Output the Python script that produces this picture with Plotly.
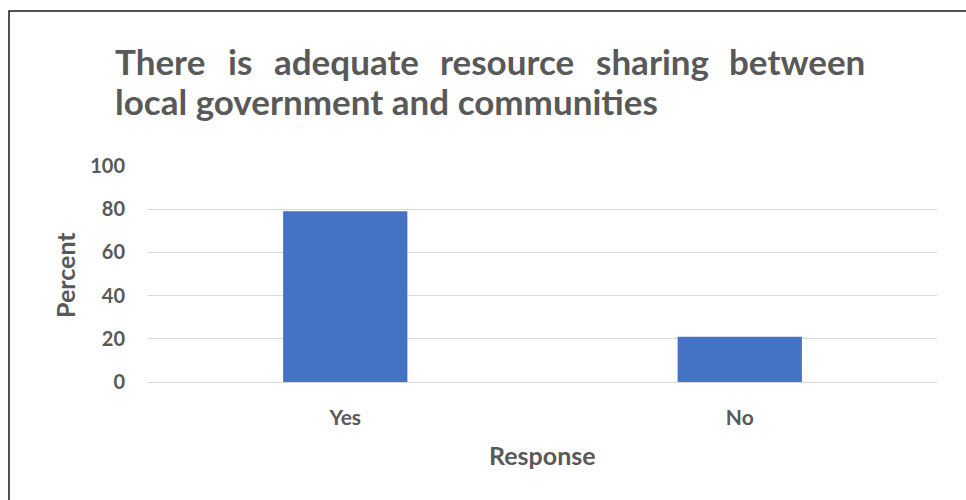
import plotly.graph_objects as go

# Survey result: share of respondents agreeing with the statement
categories = ["Yes", "No"]
percent = [79, 21]
y_ticks = [0, 20, 40, 60, 80, 100]

title_line1 = ["There", "is", "adequate", "resource", "sharing", "between"]
title_line2 = "local government and communities"

W, H = 966, 500
L, R, T, B = 148, 29, 166, 118
PW, PH = W - L - R, H - T - B

FONT = "Lato"
GREY = "#595959"


def px_x(px):
    return (px - L) / PW


def px_y(py):
    return (H - B - py) / PH


fig = go.Figure(
    go.Bar(
        x=categories,
        y=percent,
        marker=dict(color="#4472C4", line=dict(width=0)),
        width=0.315,
        hoverinfo="x+y",
    )
)

# Title: first line justified across the chart width, word centres spread out
word_centre = [160, 240, 346, 507, 652, 797]
annotations = []
for word, xc in zip(title_line1, word_centre):
    annotations.append(
        dict(
            text=word, x=px_x(xc), y=px_y(61), xref="paper", yref="paper",
            xanchor="center", yanchor="middle", showarrow=False,
            font=dict(family=FONT, size=35, color=GREY, weight="bold"),
        )
    )
annotations.append(
    dict(
        text=title_line2, x=px_x(113), y=px_y(101), xref="paper", yref="paper",
        xanchor="left", yanchor="middle", showarrow=False,
        font=dict(family=FONT, size=35, color=GREY, weight="bold"),
    )
)
# Axis titles
annotations.append(
    dict(
        text="Percent", x=px_x(65), y=px_y(275), xref="paper", yref="paper",
        xanchor="center", yanchor="middle", showarrow=False, textangle=-90,
        font=dict(family=FONT, size=25, color=GREY, weight="bold"),
    )
)
annotations.append(
    dict(
        text="Response", x=0.5, y=px_y(455), xref="paper", yref="paper",
        xanchor="center", yanchor="middle", showarrow=False,
        font=dict(family=FONT, size=25, color=GREY, weight="bold"),
    )
)

fig.update_layout(
    width=W,
    height=H,
    margin=dict(l=L, r=R, t=T, b=B, autoexpand=False),
    paper_bgcolor="white",
    plot_bgcolor="white",
    showlegend=False,
    annotations=annotations,
    shapes=[
        dict(
            type="rect", xref="paper", yref="paper",
            x0=px_x(9), y0=px_y(520), x1=px_x(990), y1=px_y(11),
            line=dict(color="#1a1a1a", width=1.5), fillcolor="rgba(0,0,0,0)",
            layer="below",
        )
    ],
)

fig.update_yaxes(
    range=[0, 100],
    tickvals=y_ticks,
    showgrid=True,
    gridcolor="#d9d9d9",
    gridwidth=1,
    zeroline=True,
    zerolinecolor="#d9d9d9",
    zerolinewidth=1,
    showline=False,
    ticks="",
    ticklabelstandoff=22,
    tickfont=dict(family=FONT, size=20, color=GREY, weight="bold"),
    fixedrange=True,
)
fig.update_xaxes(
    showgrid=False,
    showline=False,
    ticks="",
    ticklabelstandoff=21,
    tickfont=dict(family=FONT, size=21, color=GREY, weight="bold"),
    fixedrange=True,
)

fig.write_html("out.html", config={"displayModeBar": False})
